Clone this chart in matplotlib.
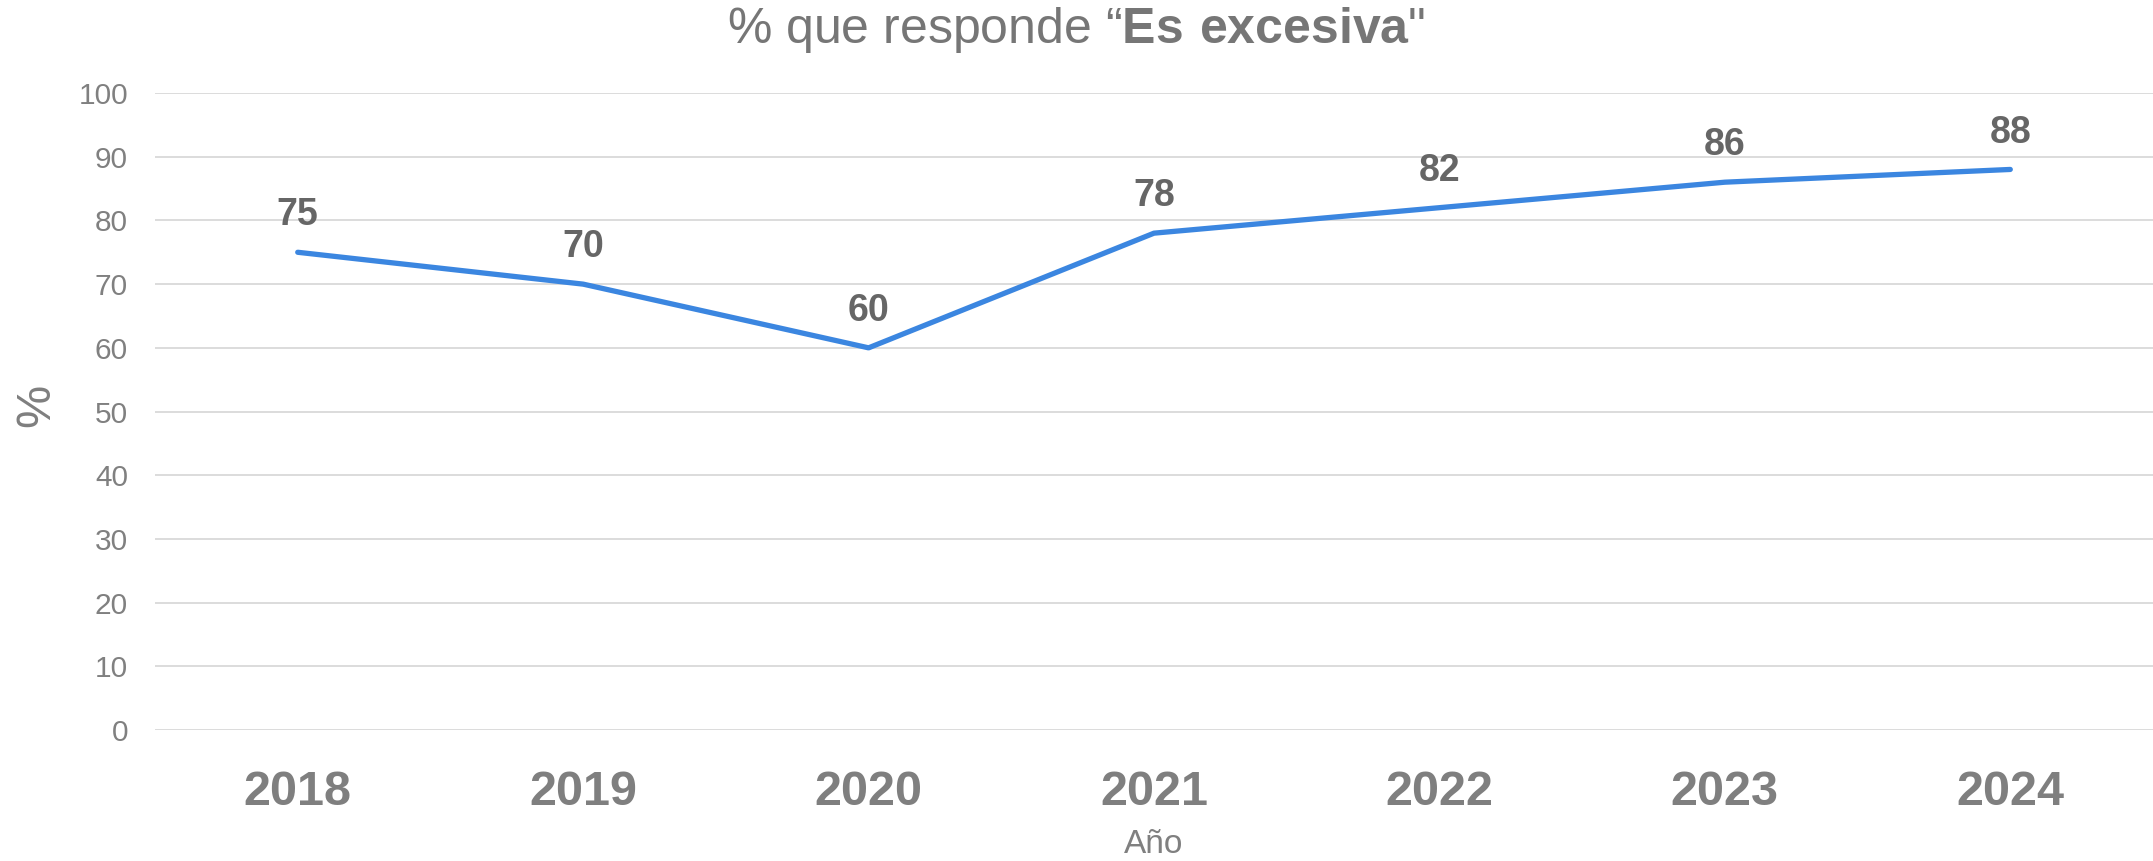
import matplotlib.pyplot as plt

plt.rcParams['font.family'] = ['Liberation Sans', 'DejaVu Sans']
plt.rcParams['mathtext.fontset'] = 'custom'
plt.rcParams['mathtext.rm'] = 'Liberation Sans'
plt.rcParams['mathtext.bf'] = 'Liberation Sans:bold'

# datos
anios = ['2018', '2019', '2020', '2021', '2022', '2023', '2024']
porcentaje = [75, 70, 60, 78, 82, 86, 88]
ticks_y = [0, 10, 20, 30, 40, 50, 60, 70, 80, 90, 100]

fig = plt.figure(figsize=(21.53, 8.61), dpi=100)
ax = fig.add_axes([0.072, 0.152, 0.928, 0.740])

x = list(range(len(anios)))
ax.plot(x, porcentaje, color='#3b86e0', linewidth=3.8, solid_capstyle='round',
        solid_joinstyle='round', zorder=3)

for xi, v in zip(x, porcentaje):
    ax.annotate(str(v), (xi, v), xytext=(0, 26.5), textcoords='offset points',
                ha='center', va='center', fontsize=27, fontweight='bold',
                color='#666666')

ax.set_xlim(-0.5, len(anios) - 0.5)
ax.set_ylim(0, 100)
ax.set_yticks(ticks_y)
ax.set_xticks(x)
ax.set_xticklabels(anios, fontsize=35, fontweight='bold', color='#7f7f7f')
ax.tick_params(axis='y', labelsize=21.5, labelcolor='#808080', length=0, pad=19.5)
ax.tick_params(axis='x', length=0, pad=29)

ax.grid(axis='y', color='#d9d9d9', linewidth=1.3)
ax.set_axisbelow(True)
for s in ax.spines.values():
    s.set_visible(False)

ax.set_ylabel('%', fontsize=35, color='#7f7f7f', va='center')
ax.yaxis.set_label_coords(-0.059, 0.51)
ax.set_xlabel('Año', fontsize=24, color='#808080', va='center')
ax.xaxis.set_label_coords(0.5, -0.179)

fig.text(0.5, 0.965, r'% que responde “$\mathbf{Es\ excesiva}$"', ha='center',
         va='center', fontsize=36, color='#767676')

fig.savefig('out.png', dpi=100)
